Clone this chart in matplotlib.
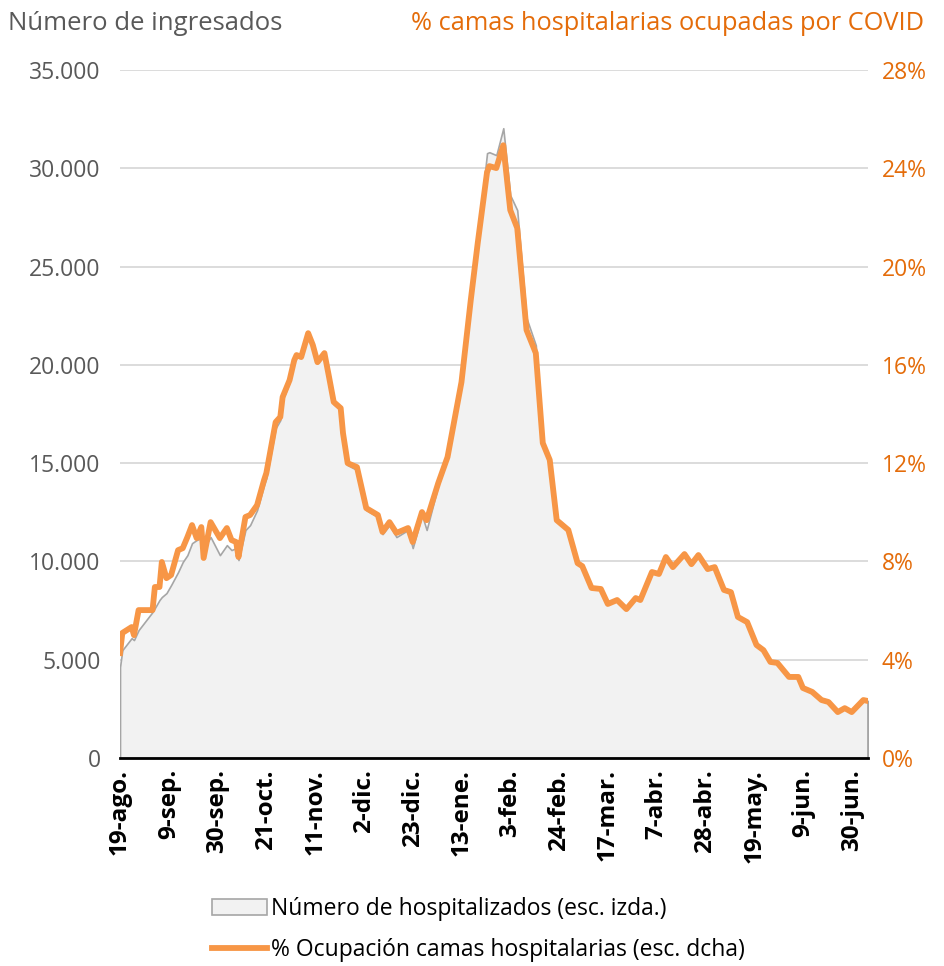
import matplotlib.pyplot as plt
from matplotlib.patches import Patch
from matplotlib.lines import Line2D
from matplotlib.ticker import FuncFormatter
import pandas as pd

# days since 19-ago-2020
days = [0, 1, 5, 6, 8, 14, 15, 17, 18, 20, 22, 25, 27, 29, 31, 33, 35, 36, 39, 43,
        46, 48, 50, 51, 54, 56, 59, 62, 63, 67, 69, 70, 73, 75, 76, 78, 81, 83, 85, 88,
        90, 92, 95, 96, 98, 102, 106, 111, 113, 116, 119, 124, 126, 130, 132, 137, 141, 147, 151, 154,
        158, 159, 162, 165, 168, 171, 175, 179, 182, 185, 188, 193, 197, 199, 203, 207, 210, 214, 218, 222,
        224, 229, 232, 235, 238, 243, 246, 249, 253, 256, 260, 263, 266, 270, 274, 277, 280, 283, 288, 292,
        294, 298, 302, 305, 309, 312, 315, 320, 322]

hospitalizados = [4630, 5490, 6100, 6000, 6510, 7430, 7630, 8040, 8190, 8390, 8800, 9460, 9970, 10320, 10930, 11090, 11190, 10680, 11240, 10320,
                  10830, 10580, 10680, 10070, 11600, 11850, 12610, 13880, 14240, 16780, 17190, 18210, 19120, 20140, 20390, 20340, 21510, 20900, 20090, 20500,
                  19330, 18000, 17700, 16430, 14900, 14650, 12610, 12260, 11390, 11850, 11240, 11600, 10680, 12360, 11600, 13880, 15260, 19120, 23400, 26450,
                  30770, 30820, 30670, 32040, 28630, 27870, 22380, 21000, 16170, 15260, 12210, 11700, 9970, 9820, 8700, 8650, 7880, 8040, 7630, 8140,
                  8040, 9460, 9360, 10220, 9710, 10380, 9870, 10320, 9610, 9710, 8540, 8440, 7170, 6920, 5750, 5490, 4880, 4830, 4120, 4120,
                  3560, 3360, 2950, 2850, 2340, 2540, 2340, 2950, 2900]

ocupacion = [4.27, 5.09, 5.33, 5.00, 6.02, 6.02, 6.96, 6.96, 7.98, 7.32, 7.45, 8.46, 8.54, 8.99, 9.48, 8.95, 9.40, 8.14, 9.60, 8.95,
             9.36, 8.87, 8.79, 8.18, 9.81, 9.89, 10.29, 11.31, 11.60, 13.67, 13.88, 14.69, 15.38, 16.19, 16.40, 16.32, 17.29, 16.81, 16.11, 16.48,
             15.50, 14.49, 14.24, 13.22, 12.00, 11.84, 10.17, 9.89, 9.20, 9.60, 9.16, 9.36, 8.79, 10.01, 9.68, 11.19, 12.25, 15.30, 18.64, 20.96,
             23.84, 24.09, 24.01, 24.94, 22.30, 21.57, 17.42, 16.48, 12.82, 12.13, 9.68, 9.28, 7.93, 7.81, 6.92, 6.88, 6.27, 6.43, 6.06, 6.51,
             6.43, 7.57, 7.49, 8.18, 7.77, 8.30, 7.89, 8.26, 7.69, 7.77, 6.84, 6.75, 5.74, 5.53, 4.60, 4.39, 3.91, 3.87, 3.30, 3.30,
             2.85, 2.69, 2.36, 2.28, 1.87, 2.03, 1.87, 2.36, 2.32]

tick_labels = ['19-ago.', '9-sep.', '30-sep.', '21-oct.', '11-nov.', '2-dic.', '23-dic.', '13-ene.',
               '3-feb.', '24-feb.', '17-mar.', '7-abr.', '28-abr.', '19-may.', '9-jun.', '30-jun.']

start = pd.Timestamp('2020-08-19')
fechas = start + pd.to_timedelta(days, unit='D')
ticks = [start + pd.Timedelta(days=21 * i) for i in range(len(tick_labels))]

plt.rcParams['font.family'] = ['Open Sans', 'DejaVu Sans']

gris = '#595959'
naranja_txt = '#E46C0A'
naranja = '#F79646'

fig = plt.figure(figsize=(9.45, 9.66), dpi=100)
ax = fig.add_axes([0.127, 0.2153, 0.7915, 0.7122])
ax2 = ax.twinx()

ax.fill_between(fechas, hospitalizados, 0, facecolor='#F2F2F2', edgecolor='#A6A6A6', linewidth=1.2)
ax.plot([fechas[-1], fechas[-1]], [0, hospitalizados[-1]], color='#A6A6A6', lw=1.2)
ax2.plot(fechas, ocupacion, color=naranja, lw=4.2, solid_joinstyle='round')

ax.set_ylim(0, 35000)
ax2.set_ylim(0, 28)
ax.set_xlim(fechas[0], fechas[-1])
ax.set_yticks(range(0, 35001, 5000))
ax2.set_yticks(range(0, 29, 4))
ax.yaxis.set_major_formatter(FuncFormatter(lambda v, p: f'{int(v):,}'.replace(',', '.')))
ax2.yaxis.set_major_formatter(FuncFormatter(lambda v, p: f'{int(v)}%'))
ax.grid(axis='y', color='#D9D9D9', lw=1.3)
ax.set_axisbelow(True)

ax.set_xticks(ticks)
ax.set_xticklabels(tick_labels, rotation=90, fontweight='bold', fontsize=17.5)
ax.tick_params(axis='x', length=0, pad=8)
ax.tick_params(axis='y', length=0, labelsize=16.5, labelcolor=gris, pad=14)
ax2.tick_params(axis='y', length=0, labelsize=16.5, labelcolor=naranja_txt, pad=10)

for a in (ax, ax2):
    for s in ('left', 'right', 'top'):
        a.spines[s].set_visible(False)
ax.spines['bottom'].set_linewidth(2)
ax2.spines['bottom'].set_visible(False)

fig.text(0.008, 0.976, 'Número de ingresados', color=gris, fontsize=18.5, va='center', ha='left')
fig.text(0.978, 0.976, '% camas hospitalarias ocupadas por COVID', color=naranja_txt, fontsize=18.3, va='center', ha='right')

handles = [Patch(facecolor='#F2F2F2', edgecolor='#A6A6A6', linewidth=1.2),
           Line2D([0], [0], color=naranja, lw=4.2)]
fig.legend(handles, ['Número de hospitalizados (esc. izda.)', '% Ocupación camas hospitalarias (esc. dcha)'],
           loc='upper left', bbox_to_anchor=(0.215, 0.081), frameon=False, fontsize=16.5,
           handlelength=2.4, handletextpad=0.15, labelspacing=0.75, borderaxespad=0)

fig.savefig('out.png', dpi=100)
